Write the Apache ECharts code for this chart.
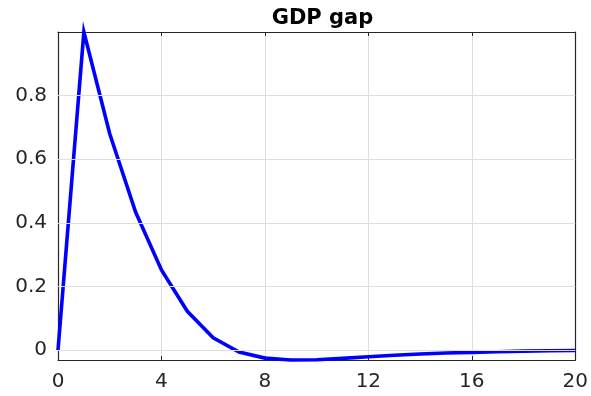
<!DOCTYPE html>
<html>
<head>
<meta charset="utf-8">
<script src="https://cdn.jsdelivr.net/npm/echarts@6/dist/echarts.min.js"></script>
<style>html,body{margin:0;padding:0;background:#fff}#c{width:591px;height:396px}</style>
</head>
<body>
<div id="c"></div>
<script>
const title = "GDP gap";
const periods = [0,1,2,3,4,5,6,7,8,9,10,11,12,13,14,15,16,17,18,19,20];
const gdpGap = [0,1.0,0.68,0.434,0.252,0.122,0.039,-0.006,-0.025,-0.031,-0.030,-0.026,-0.021,-0.016,-0.012,-0.009,-0.007,-0.005,-0.003,-0.002,-0.001];
const yTicks = [0,0.2,0.4,0.6,0.8];
const xTicks = [0,4,8,12,16,20];
const yMin = -0.031, yMax = 1.0;

const font = "'DejaVu Sans', sans-serif";
const axisColor = '#262626';
const gridColor = '#dedede';

const chart = echarts.init(document.getElementById('c'), null, {renderer:'canvas'});
const fmtY = v => (Math.abs(v) < 1e-9 ? '0' : String(+v.toFixed(1)));
chart.setOption({
  animation: false,
  title: {text: title, left: 317.5, textAlign: 'center', top: 3,
    textStyle: {fontFamily: font, fontSize: 21, fontWeight: 'bold', color: '#000'}},
  grid: {left: 58, right: 14, top: 32, bottom: 36, containLabel: false},
  xAxis: [{
    type: 'value', min: 0, max: 20, interval: 4, position: 'bottom',
    axisLine: {show: true, onZero: false, lineStyle: {color: axisColor, width: 1.2}},
    axisTick: {show: true, inside: true, length: 4, lineStyle: {color: axisColor}},
    axisLabel: {show: true, margin: 12, fontFamily: font, fontSize: 20, color: axisColor},
    splitLine: {show: true, lineStyle: {color: gridColor, width: 1}}
  },{
    type: 'value', min: 0, max: 20, interval: 4, position: 'top',
    axisLine: {show: true, onZero: false, lineStyle: {color: axisColor, width: 1.2}},
    axisTick: {show: true, inside: true, length: 4, lineStyle: {color: axisColor}},
    axisLabel: {show: false}, splitLine: {show: false}
  }],
  yAxis: [{
    type: 'value', min: yMin, max: yMax, position: 'left',
    axisLine: {show: true, onZero: false, lineStyle: {color: axisColor, width: 1.2}},
    axisTick: {show: true, inside: true, length: 4, customValues: yTicks, lineStyle: {color: axisColor}},
    axisLabel: {show: true, margin: 11, customValues: yTicks, formatter: fmtY, fontFamily: font, fontSize: 20, color: axisColor},
    splitLine: {show: false}
  },{
    type: 'value', min: yMin, max: yMax, position: 'right',
    axisLine: {show: true, onZero: false, lineStyle: {color: axisColor, width: 1.2}},
    axisTick: {show: true, inside: true, length: 4, customValues: yTicks, lineStyle: {color: axisColor}},
    axisLabel: {show: false}, splitLine: {show: false}
  }],
  series: [{
    type: 'line', xAxisIndex: 0, yAxisIndex: 0,
    data: periods.map((p, i) => [p, gdpGap[i]]),
    showSymbol: false, symbol: 'none', clip: false,
    lineStyle: {color: '#0000ff', width: 3.6, join: 'miter'},
    markLine: {silent: true, symbol: 'none', label: {show: false},
      lineStyle: {color: gridColor, width: 1, type: 'solid'},
      data: yTicks.map(v => ({yAxis: v}))},
    z: 3
  }]
});
</script>
</body>
</html>
